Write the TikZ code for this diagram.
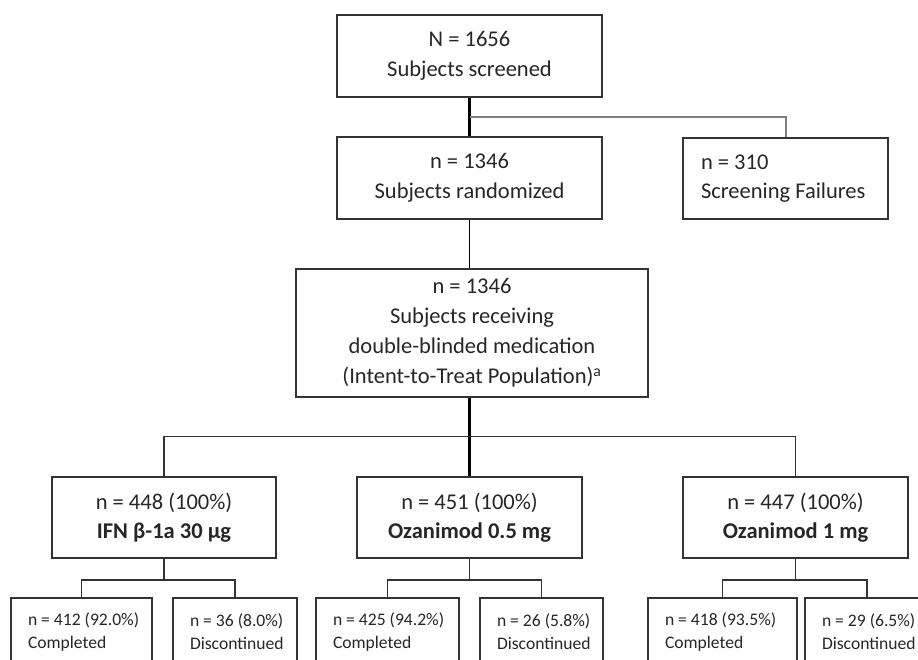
\documentclass[tikz,border=0pt]{standalone}
\usepackage{fontspec}
\setmainfont{Carlito}
\definecolor{boxline}{HTML}{333333}
\definecolor{inkgray}{HTML}{262626}
\definecolor{sidegray}{HTML}{808080}

\begin{document}
\begin{tikzpicture}[x=1pt,y=-1pt,
  box/.style={draw=boxline,line width=1.6pt,text=inkgray,align=center,inner sep=0pt,
    font=\fontsize{22.5}{29.5}\selectfont},
  sidebox/.style={box,align=flush left,inner xsep=18pt,text width=169pt},
  armbox/.style={box,minimum height=81,minimum width=225},
  smallbox/.style={draw=boxline,line width=1.6pt,text=inkgray,align=flush left,inner ysep=0pt,
    inner xsep=17pt,minimum height=68,font=\fontsize{17.6}{23}\selectfont},
  trunk/.style={draw=black,line width=3pt},
  link/.style={draw=boxline,line width=1.6pt}]
  \useasboundingbox (0,0) rectangle (918,659);
  \clip (0,0) rectangle (918,659);

  \node[box,minimum width=265,minimum height=82] (scr) at (469.5,56) {N = 1656\\Subjects screened};
  \node[box,minimum width=265,minimum height=82] (rand) at (469.5,178) {n = 1346\\Subjects randomized};
  \node[sidebox,minimum width=205,minimum height=81] (fail) at (785.5,178.5) {n = 310\\Screening Failures};
  \node[box,minimum width=352,minimum height=128,font=\fontsize{22.5}{30}\selectfont] (itt) at (472,333)
    {n = 1346\\Subjects receiving\\double-blinded medication\\(Intent-to-Treat Population)\textsuperscript{a}};

  \node[armbox,minimum width=224] (ifn) at (164,517.5) {n = 448 (100\%)\\\textbf{IFN β-1a 30 µg}};
  \node[armbox] (oz05) at (469.5,517.5) {n = 451 (100\%)\\\textbf{Ozanimod 0.5 mg}};
  \node[armbox] (oz1) at (795.5,517.5) {n = 447 (100\%)\\\textbf{Ozanimod 1 mg}};

  \node[smallbox,text width=107pt] (ifnc) at (81.5,632) {\mbox{n = 412 (92.0\%)}\\Completed};
  \node[smallbox,text width=90pt] (ifnd) at (235,632) {\mbox{n = 36 (8.0\%)}\\Discontinued};
  \node[smallbox,text width=109pt] (oz05c) at (387.5,632) {\mbox{n = 425 (94.2\%)}\\Completed};
  \node[smallbox,text width=89pt] (oz05d) at (541.5,632) {\mbox{n = 26 (5.8\%)}\\Discontinued};
  \node[smallbox,text width=115pt] (oz1c) at (722.5,632) {\mbox{n = 418 (93.5\%)}\\Completed};
  \node[smallbox,text width=90pt] (oz1d) at (867,632) {\mbox{n = 29 (6.5\%)}\\Discontinued};

  \coordinate (split) at (469.5,117);
  \coordinate (arms) at (469.5,436.5);

  \draw[trunk] (scr.south) -- (rand.north);
  \draw[draw=sidegray,line width=2pt] (split) -| (fail.north);
  \draw[draw=black,line width=1.2pt] (rand.south) -- (rand.south |- itt.north);
  \draw[trunk] (oz05.north |- itt.south) -- (oz05.north);
  \draw[link] (ifn.north) -- (ifn.north |- arms) -- (oz1.north |- arms) -- (oz1.north);

  \foreach \arm in {ifn,oz05,oz1}
    \draw[link] (\arm.south) -- ++(0,21) coordinate (fork)
      (\arm c.north) |- (fork) -| (\arm d.north);
\end{tikzpicture}
\end{document}
